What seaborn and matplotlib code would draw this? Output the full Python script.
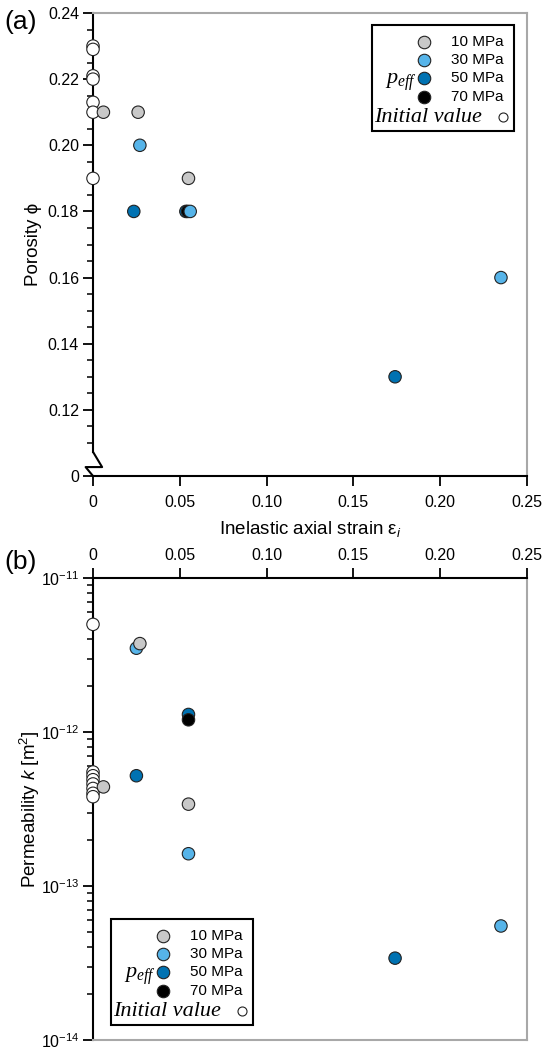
import numpy as np
import pandas as pd
import matplotlib
matplotlib.use("Agg")
import matplotlib.pyplot as plt
import seaborn as sns
from matplotlib.lines import Line2D
from matplotlib.patches import Rectangle
from matplotlib.ticker import FixedLocator, NullFormatter, LogFormatterSciNotation

# ---------------- data ----------------
groups = ["Initial", "50 MPa", "70 MPa", "30 MPa", "10 MPa"]   # drawing order
legend_groups = ["10 MPa", "30 MPa", "50 MPa", "70 MPa"]
palette = {"10 MPa": "#c8c8c8", "30 MPa": "#56b4e9", "50 MPa": "#0072b2",
           "70 MPa": "#000000", "Initial": "#ffffff"}

# (a) porosity vs inelastic axial strain
a_strain_init = [0, 0, 0, 0, 0, 0, 0]
a_phi_init = [0.230, 0.229, 0.221, 0.220, 0.213, 0.210, 0.190]
a_strain_10 = [0.006, 0.026, 0.055]
a_phi_10 = [0.21, 0.21, 0.19]
a_strain_30 = [0.027, 0.056, 0.235]
a_phi_30 = [0.20, 0.18, 0.16]
a_strain_50 = [0.0235, 0.0535, 0.174]
a_phi_50 = [0.18, 0.18, 0.13]
a_strain_70 = [0.0545]
a_phi_70 = [0.18]

# (b) permeability vs inelastic axial strain
b_strain_init = [0, 0, 0, 0, 0, 0, 0, 0]
b_k_init = [5.0e-12, 5.5e-13, 5.2e-13, 4.9e-13, 4.6e-13, 4.3e-13, 4.0e-13, 3.8e-13]
b_strain_10 = [0.006, 0.027, 0.055]
b_k_10 = [4.4e-13, 3.75e-12, 3.4e-13]
b_strain_30 = [0.025, 0.055, 0.235]
b_k_30 = [3.5e-12, 1.62e-13, 5.5e-14]
b_strain_50 = [0.025, 0.055, 0.174]
b_k_50 = [5.2e-13, 1.3e-12, 3.4e-14]
b_strain_70 = [0.055]
b_k_70 = [1.2e-12]

x_ticks = [0, 0.05, 0.10, 0.15, 0.20, 0.25]
x_ticklabels = ["0", "0.05", "0.10", "0.15", "0.20", "0.25"]
a_yticks = [0.10, 0.12, 0.14, 0.16, 0.18, 0.20, 0.22, 0.24]
a_yticklabels = ["0", "0.12", "0.14", "0.16", "0.18", "0.20", "0.22", "0.24"]
b_decades = [-14, -13, -12, -11]


def frame(strains, values):
    parts = []
    for g in groups:
        s, v = strains[g], values[g]
        parts.append(pd.DataFrame({"strain": s, "value": v, "group": [g] * len(s)}))
    return pd.concat(parts, ignore_index=True)


df_a = frame({"Initial": a_strain_init, "10 MPa": a_strain_10, "30 MPa": a_strain_30,
              "50 MPa": a_strain_50, "70 MPa": a_strain_70},
             {"Initial": a_phi_init, "10 MPa": a_phi_10, "30 MPa": a_phi_30,
              "50 MPa": a_phi_50, "70 MPa": a_phi_70})
df_b = frame({"Initial": b_strain_init, "10 MPa": b_strain_10, "30 MPa": b_strain_30,
              "50 MPa": b_strain_50, "70 MPa": b_strain_70},
             {"Initial": b_k_init, "10 MPa": b_k_10, "30 MPa": b_k_30,
              "50 MPa": b_k_50, "70 MPa": b_k_70})

# ---------------- style ----------------
sns.set_theme(style="white")
plt.rcParams["font.family"] = ["Liberation Sans", "DejaVu Sans"]
plt.rcParams["text.color"] = "black"
plt.rcParams["axes.labelcolor"] = "black"
plt.rcParams["xtick.color"] = "black"
plt.rcParams["ytick.color"] = "black"
plt.rcParams["mathtext.fontset"] = "custom"
plt.rcParams["mathtext.rm"] = "Liberation Sans"
plt.rcParams["mathtext.it"] = "Liberation Sans:italic"
plt.rcParams["mathtext.bf"] = "Liberation Sans:bold"
plt.rcParams["mathtext.cal"] = "Liberation Serif:italic"

W, H = 550, 1052
fig = plt.figure(figsize=(W / 100, H / 100), dpi=100)
ax1 = fig.add_axes([93 / W, 1 - 476 / H, 434 / W, 463 / H])
ax2 = fig.add_axes([93 / W, 1 - 1040 / H, 434 / W, 462 / H])

GRAY = "#a8a8a8"
TICK_FS = 11.5
LABEL_FS = 13.5
mk = dict(s=80, edgecolor="#222222", linewidth=0.8, legend=False, clip_on=False, zorder=4)

# ---------------- panel (a) ----------------
sns.scatterplot(data=df_a, x="strain", y="value", hue="group", hue_order=groups,
                palette=palette, ax=ax1, **mk)
ax1.set_xlim(0, 0.25)
ax1.set_ylim(0.10, 0.24)
ax1.set_xticks(x_ticks)
ax1.set_xticklabels(x_ticklabels)
ax1.set_yticks(a_yticks)
ax1.set_yticklabels(a_yticklabels)
minors = [v for v in np.round(np.arange(0.11, 0.2401, 0.005), 3) if v not in np.round(a_yticks, 3)]
ax1.yaxis.set_minor_locator(FixedLocator(minors))
ax1.yaxis.set_minor_formatter(NullFormatter())
ax1.tick_params(axis="both", which="major", direction="out", length=7, width=1.3,
                labelsize=TICK_FS, color="black", labelcolor="black", left=True, bottom=True)
ax1.tick_params(axis="y", which="minor", direction="out", length=4, width=1.1, left=True)
ax1.tick_params(axis="x", pad=7)
ax1.tick_params(axis="y", pad=3)
for side in ["left", "bottom"]:
    ax1.spines[side].set_color("black")
    ax1.spines[side].set_linewidth(1.5)
for side in ["top", "right"]:
    ax1.spines[side].set_color(GRAY)
    ax1.spines[side].set_linewidth(1.5)
ax1.spines["left"].set_bounds(0.1073, 0.24)
# axis break (zigzag)
brk_tr = ax1.get_yaxis_transform()
ax1.plot([0, 0.021, -0.017, 0.0], [0.1073, 0.1027, 0.1027, 0.100], color="black",
         lw=1.5, transform=brk_tr, clip_on=False, zorder=3)
ax1.set_xlabel("Inelastic axial strain ε$_i$", fontsize=LABEL_FS, color="black")
ax1.set_ylabel("Porosity ϕ", fontsize=LABEL_FS, color="black")
ax1.xaxis.set_label_coords(0.5, -0.092)
ax1.yaxis.set_label_coords(-0.118, 0.5)

# ---------------- panel (b) ----------------
sns.scatterplot(data=df_b, x="strain", y="value", hue="group", hue_order=groups,
                palette=palette, ax=ax2, **mk)
ax2.set_yscale("log")
ax2.set_xlim(0, 0.25)
ax2.set_ylim(10.0 ** b_decades[0], 10.0 ** b_decades[-1])
ax2.xaxis.tick_top()
ax2.set_xticks(x_ticks)
ax2.set_xticklabels(x_ticklabels)
b_major = [10.0 ** d for d in b_decades]
b_minor = [m * 10.0 ** d for d in b_decades[:-1] for m in range(2, 10)]
ax2.yaxis.set_major_locator(FixedLocator(b_major))
ax2.yaxis.set_major_formatter(LogFormatterSciNotation())
ax2.yaxis.set_minor_locator(FixedLocator(b_minor))
ax2.yaxis.set_minor_formatter(NullFormatter())
ax2.tick_params(axis="both", which="major", direction="out", length=7, width=1.3,
                labelsize=TICK_FS, color="black", labelcolor="black")
ax2.tick_params(axis="x", top=True, bottom=False, labeltop=True, labelbottom=False, pad=4)
ax2.tick_params(axis="y", which="both", left=True, right=False, pad=3)
ax2.tick_params(axis="y", which="minor", direction="out", length=4, width=1.1)
for side in ["left", "top"]:
    ax2.spines[side].set_color("black")
    ax2.spines[side].set_linewidth(1.5)
for side in ["bottom", "right"]:
    ax2.spines[side].set_color(GRAY)
    ax2.spines[side].set_linewidth(1.5)
ax2.set_xlabel("")
ax2.set_ylabel("Permeability $k$ [m$^2$]", fontsize=LABEL_FS, color="black")
ax2.yaxis.set_label_coords(-0.118, 0.5)

# panel letters
fig.text(4 / W, 1 - 22 / H, "(a)", fontsize=19, ha="left", va="center")
fig.text(4 / W, 1 - 562 / H, "(b)", fontsize=19, ha="left", va="center")


# ---------------- custom keys ----------------
def draw_key(left, top):
    def fx(px):
        return px / W

    def fy(py):
        return 1 - py / H

    bw, bh = 142, 106
    fig.add_artist(Rectangle((fx(left), fy(top + bh)), bw / W, bh / H,
                             transform=fig.transFigure, facecolor="white",
                             edgecolor="black", lw=1.5, zorder=5))
    rows = [17, 35, 53, 72]
    for lab, r in zip(legend_groups, rows):
        fig.add_artist(Line2D([fx(left + 52)], [fy(top + r)], marker="o", ms=9,
                              mfc=palette[lab], mec="#222222", mew=0.8, lw=0,
                              transform=fig.transFigure, zorder=6))
        fig.text(fx(left + 79), fy(top + r), lab, fontsize=11, ha="left",
                 va="center", zorder=6)
    fig.text(fx(left + 13), fy(top + 59), r"$\mathcal{p}_{\mathcal{eff}}$", fontsize=16,
             ha="left", va="baseline", zorder=6)
    fig.text(fx(left + 2), fy(top + 97), "Initial value", fontsize=16,
             family="Liberation Serif", style="italic", ha="left", va="baseline", zorder=6)
    fig.add_artist(Line2D([fx(left + 131)], [fy(top + 92)], marker="o", ms=6.5,
                          mfc="white", mec="#222222", mew=0.8, lw=0,
                          transform=fig.transFigure, zorder=6))


draw_key(372, 25)
draw_key(111, 919)

fig.savefig("out.png", dpi=100)
